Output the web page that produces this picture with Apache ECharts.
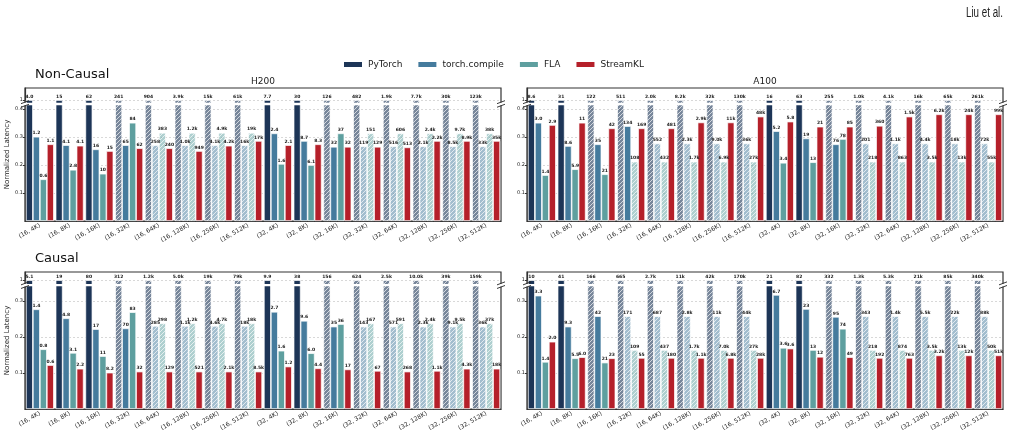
<!DOCTYPE html>
<html>
<head>
<meta charset="utf-8">
<script src="https://cdn.jsdelivr.net/npm/echarts@6/dist/echarts.min.js"></script>
<style>
  html, body { margin: 0; padding: 0; background: #fff; }
  #chart { width: 1017px; height: 438px; }
</style>
</head>
<body>
<div id="chart"></div>
<script>
// categories: (batch, sequence length)
const categories = ['(16, 4K)', '(16, 8K)', '(16, 16K)', '(16, 32K)', '(16, 64K)', '(16, 128K)', '(16, 256K)', '(16, 512K)',
    '(32, 4K)', '(32, 8K)', '(32, 16K)', '(32, 32K)', '(32, 64K)', '(32, 128K)', '(32, 256K)', '(32, 512K)'];
const seriesNames = ['PyTorch', 'torch.compile', 'FLA', 'StreamKL'];
const seriesColors = ['#1d3557', '#457b9d', '#5e9f9f', '#b5202a'];

// latency normalized to PyTorch (PyTorch = 1)
const baseline = 1;

// ---- Non-Causal, H200 ----
const h200NcTc  = [0.301, 0.271, 0.256, 0.271, 0.271, 0.271, 0.271, 0.271, 0.313, 0.286, 0.265, 0.267, 0.267, 0.267, 0.267, 0.267];
const h200NcFla = [0.149, 0.183, 0.169, 0.351, 0.315, 0.315, 0.315, 0.315, 0.204, 0.200, 0.313, 0.313, 0.313, 0.313, 0.313, 0.313];
const h200NcSk  = [0.274, 0.269, 0.250, 0.260, 0.260, 0.250, 0.269, 0.286, 0.271, 0.274, 0.265, 0.265, 0.263, 0.286, 0.286, 0.286];
const h200NcPtLbl  = ['4.0', '15', '62', '241', '904', '3.9k', '15k', '61k', '7.7', '30', '126', '482', '1.9k', '7.7k', '30k', '123k'];
const h200NcTcLbl  = ['1.2', '4.1', '16', '65', '258', '1.0k', '4.1k', '16k', '2.4', '8.7', '32', '119', '516', '2.1k', '8.5k', '33k'];
const h200NcFlaLbl = ['0.6', '2.8', '10', '84', '383', '1.2k', '4.9k', '19k', '1.6', '6.1', '37', '151', '606', '2.4k', '9.7k', '38k'];
const h200NcSkLbl  = ['1.1', '4.1', '15', '62', '240', '949', '4.2k', '17k', '2.1', '8.3', '32', '129', '513', '2.2k', '8.9k', '35k'];
// estimated entries (P = PyTorch, T = torch.compile, F = FLA)
const h200NcEst = ['', '', '', 'P', 'PTF', 'PTF', 'PTF', 'PTF', '', '', 'P', 'PTF', 'PTF', 'PTF', 'PTF', 'PTF'];

// ---- Non-Causal, A100 ----
const a100NcTc  = [0.351, 0.268, 0.274, 0.339, 0.277, 0.277, 0.277, 0.277, 0.321, 0.295, 0.274, 0.277, 0.277, 0.277, 0.277, 0.277];
const a100NcFla = [0.164, 0.185, 0.167, 0.212, 0.212, 0.212, 0.212, 0.212, 0.208, 0.210, 0.293, 0.212, 0.212, 0.212, 0.212, 0.212];
const a100NcSk  = [0.343, 0.351, 0.331, 0.331, 0.331, 0.352, 0.352, 0.373, 0.355, 0.337, 0.337, 0.340, 0.373, 0.381, 0.381, 0.381];
const a100NcPtLbl  = ['8.6', '31', '122', '511', '2.0k', '8.2k', '32k', '130k', '16', '63', '255', '1.0k', '4.1k', '16k', '65k', '261k'];
const a100NcTcLbl  = ['3.0', '8.6', '35', '134', '552', '2.3k', '9.0k', '36k', '5.2', '19', '76', '201', '1.1k', '4.4k', '18k', '72k'];
const a100NcFlaLbl = ['1.4', '5.9', '21', '108', '432', '1.7k', '6.9k', '27k', '3.4', '13', '78', '218', '863', '3.5k', '13k', '55k'];
const a100NcSkLbl  = ['2.9', '11', '42', '169', '481', '2.9k', '11k', '48k', '5.8', '21', '85', '360', '1.5k', '6.2k', '24k', '99k'];
const a100NcEst = ['', '', 'P', 'PF', 'PTF', 'PTF', 'PTF', 'PTF', '', '', 'P', 'PTF', 'PTF', 'PTF', 'PTF', 'PTF'];

// ---- Causal, H200 ----
const h200CTc  = [0.277, 0.252, 0.222, 0.224, 0.231, 0.231, 0.231, 0.231, 0.270, 0.245, 0.229, 0.229, 0.229, 0.229, 0.229, 0.229];
const h200CFla = [0.166, 0.156, 0.147, 0.269, 0.238, 0.238, 0.238, 0.238, 0.162, 0.155, 0.236, 0.238, 0.238, 0.238, 0.238, 0.238];
const h200CSk  = [0.122, 0.112, 0.101, 0.104, 0.104, 0.104, 0.104, 0.104, 0.118, 0.113, 0.110, 0.106, 0.104, 0.106, 0.112, 0.112];
const h200CPtLbl  = ['5.1', '19', '80', '312', '1.2k', '5.0k', '19k', '79k', '9.9', '38', '156', '624', '2.5k', '10.0k', '39k', '159k'];
const h200CTcLbl  = ['1.4', '4.8', '17', '70', '285', '1.1k', '4.6k', '18k', '2.7', '9.6', '35', '143', '571', '2.3k', '9.1k', '36k'];
const h200CFlaLbl = ['0.8', '3.1', '11', '83', '298', '1.2k', '4.7k', '18k', '1.6', '6.0', '36', '167', '591', '2.4k', '9.5k', '37k'];
const h200CSkLbl  = ['0.6', '2.2', '8.2', '32', '129', '521', '2.1k', '8.5k', '1.2', '4.4', '17', '67', '268', '1.1k', '4.3k', '18k'];
const h200CEst = ['', '', '', 'P', 'PTF', 'PTF', 'PTF', 'PTF', '', '', 'P', 'PTF', 'PTF', 'PTF', 'PTF', 'PTF'];

// ---- Causal, A100 ----
const a100CTc  = [0.315, 0.229, 0.258, 0.258, 0.258, 0.258, 0.258, 0.258, 0.317, 0.278, 0.256, 0.258, 0.258, 0.258, 0.258, 0.258];
const a100CFla = [0.131, 0.141, 0.129, 0.164, 0.164, 0.164, 0.164, 0.164, 0.170, 0.164, 0.223, 0.164, 0.164, 0.164, 0.164, 0.164];
const a100CSk  = [0.187, 0.144, 0.141, 0.142, 0.142, 0.142, 0.142, 0.142, 0.168, 0.145, 0.144, 0.142, 0.142, 0.149, 0.149, 0.149];
const a100CPtLbl  = ['10', '41', '166', '665', '2.7k', '11k', '42k', '170k', '21', '82', '332', '1.3k', '5.3k', '21k', '85k', '340k'];
const a100CTcLbl  = ['3.3', '9.3', '42', '171', '687', '2.8k', '11k', '44k', '6.7', '23', '95', '343', '1.4k', '5.5k', '22k', '88k'];
const a100CFlaLbl = ['1.4', '5.5', '21', '109', '437', '1.7k', '7.0k', '27k', '3.6', '13', '74', '218', '874', '3.5k', '13k', '50k'];
const a100CSkLbl  = ['2.0', '6.0', '23', '55', '180', '1.1k', '6.8k', '28k', '3.6', '12', '49', '192', '763', '3.2k', '12k', '51k'];
const a100CEst = ['', '', 'P', 'PTF', 'PTF', 'PTF', 'PTF', 'PTF', '', '', 'P', 'PTF', 'PTF', 'PTF', 'PTF', 'PTF'];

// panel layout (broken y axis: values above the break are drawn at "1")
const panels = [
    { title: 'H200', left: 25, top: 88, height: 133, yMax: 0.475, brk: 0.418, one: 0.432, ticks: [0.1, 0.2, 0.3, 0.4],
      vals: [null, h200NcTc, h200NcFla, h200NcSk], lbls: [h200NcPtLbl, h200NcTcLbl, h200NcFlaLbl, h200NcSkLbl], est: h200NcEst, yName: true },
    { title: 'A100', left: 527, top: 88, height: 133, yMax: 0.475, brk: 0.418, one: 0.432, ticks: [0.1, 0.2, 0.3, 0.4],
      vals: [null, a100NcTc, a100NcFla, a100NcSk], lbls: [a100NcPtLbl, a100NcTcLbl, a100NcFlaLbl, a100NcSkLbl], est: a100NcEst },
    { title: '', left: 25, top: 272, height: 137, yMax: 0.3806, brk: 0.344, one: 0.358, ticks: [0.1, 0.2, 0.3],
      vals: [null, h200CTc, h200CFla, h200CSk], lbls: [h200CPtLbl, h200CTcLbl, h200CFlaLbl, h200CSkLbl], est: h200CEst, yName: true },
    { title: '', left: 527, top: 272, height: 137, yMax: 0.3806, brk: 0.344, one: 0.358, ticks: [0.1, 0.2, 0.3],
      vals: [null, a100CTc, a100CFla, a100CSk], lbls: [a100CPtLbl, a100CTcLbl, a100CFlaLbl, a100CSkLbl], est: a100CEst }
];
const panelWidth = 476;
const estKeys = ['P', 'T', 'F', 'S'];

function rgba(hex, a) {
    const n = parseInt(hex.slice(1), 16);
    return 'rgba(' + (n >> 16) + ',' + ((n >> 8) & 255) + ',' + (n & 255) + ',' + a + ')';
}

// hatched fill for estimated bars: translucent series colour with white "///" stripes
function hatch(hex, a) {
    const s = 4;
    const c = document.createElement('canvas');
    c.width = s; c.height = s;
    const g = c.getContext('2d');
    g.fillStyle = rgba(hex, a);
    g.fillRect(0, 0, s, s);
    g.strokeStyle = 'rgba(255,255,255,0.75)';
    g.lineWidth = 0.9;
    g.beginPath();
    g.moveTo(-1, s + 1); g.lineTo(s + 1, -1);
    g.moveTo(-1, 1); g.lineTo(1, -1);
    g.moveTo(s - 1, s + 1); g.lineTo(s + 1, s - 1);
    g.stroke();
    return { image: c, repeat: 'repeat' };
}

const chart = echarts.init(document.getElementById('chart'));

const grids = [], xAxes = [], yAxes = [], series = [], graphics = [];

panels.forEach((p, pi) => {
    grids.push({ left: p.left, top: p.top, width: panelWidth, height: p.height, show: true,
        borderColor: '#333', borderWidth: 1.2, backgroundColor: 'transparent' });
    xAxes.push({
        type: 'category', gridIndex: pi, data: categories,
        axisLine: { lineStyle: { color: '#333', width: 1.2 } },
        axisTick: { alignWithLabel: true, length: 3, lineStyle: { color: '#333' } },
        axisLabel: { rotate: 30, fontSize: 6, color: '#222', fontFamily: 'DejaVu Sans', margin: 4, interval: 0 }
    });
    const tickVals = p.ticks.concat([p.one]);
    yAxes.push({
        type: 'value', gridIndex: pi, min: 0, max: p.yMax, interval: 0.1,
        name: p.yName ? 'Normalized Latency' : '', nameLocation: 'middle', nameGap: 12,
        nameTextStyle: { fontSize: 7, color: '#222', fontFamily: 'DejaVu Sans' },
        axisLine: { show: true, lineStyle: { color: '#333', width: 1.2 } },
        axisTick: { show: true, length: 2, customValues: tickVals, lineStyle: { color: '#333' } },
        axisLabel: { fontSize: 5, color: '#222', margin: 2, fontFamily: 'DejaVu Sans',
            customValues: tickVals,
            formatter: v => (v > p.brk ? '1' : v.toFixed(1)) },
        splitLine: { show: true, lineStyle: { color: '#cfcfcf', type: [2, 2], width: 0.8 } }
    });

    seriesNames.forEach((name, si) => {
        const color = seriesColors[si];
        const hatchFill = hatch(color, si === 0 ? 0.6 : 0.5);
        const data = categories.map((c, i) => {
            const raw = si === 0 ? baseline : p.vals[si][i];
            const v = raw > p.brk ? p.one : raw;
            const isEst = p.est[i].indexOf(estKeys[si]) >= 0;
            const item = { value: v };
            if (isEst) {
                item.itemStyle = { color: hatchFill };
            }
            return item;
        });
        series.push({
            name: name, type: 'bar', xAxisIndex: pi, yAxisIndex: pi,
            data: data, barGap: '0%', barCategoryGap: '6%',
            itemStyle: { color: color, borderColor: '#fff', borderWidth: 0.7 },
            label: { show: true, position: 'top', distance: 1, fontSize: 4.5, fontWeight: 'bold',
                color: '#222', fontFamily: 'DejaVu Sans',
                formatter: q => p.lbls[si][q.dataIndex] },
            emphasis: { disabled: true },
            animation: false
        });
    });

    // axis break: white gap through the tall bars and "//" marks on both spines
    const by = p.top + (p.yMax - p.brk) / p.yMax * p.height;
    graphics.push({ type: 'rect', z: 100, shape: { x: p.left + 1, y: by - 1.2, width: panelWidth - 2, height: 2.4 },
        style: { fill: '#fff' } });
    [p.left, p.left + panelWidth].forEach(x => {
        graphics.push({ type: 'rect', z: 100, shape: { x: x - 2, y: by - 1.5, width: 4, height: 3 }, style: { fill: '#fff' } });
        [-1.8, 1.8].forEach(d => {
            graphics.push({ type: 'line', z: 101,
                shape: { x1: x - 4, y1: by + d + 1.5, x2: x + 4, y2: by + d - 1.5 },
                style: { stroke: '#222', lineWidth: 0.9 } });
        });
    });
    if (p.title) {
        graphics.push({ type: 'text', z: 100, x: p.left + panelWidth / 2, y: p.top - 11,
            style: { text: p.title, fontSize: 9, fill: '#222', fontFamily: 'DejaVu Sans', textAlign: 'center' } });
    }
});

graphics.push(
    { type: 'text', x: 1003, y: 6, scaleX: 0.7, style: { text: 'Liu et al.', fontSize: 14, fill: '#222',
        fontFamily: 'Liberation Sans', textAlign: 'right' } },
    { type: 'text', x: 35, y: 68, style: { text: 'Non-Causal', fontSize: 13, fill: '#111', fontFamily: 'DejaVu Sans' } },
    { type: 'text', x: 35, y: 252, style: { text: 'Causal', fontSize: 13, fill: '#111', fontFamily: 'DejaVu Sans' } }
);

chart.setOption({
    animation: false,
    backgroundColor: '#fff',
    legend: {
        top: 55, left: 337, icon: 'rect', itemWidth: 20, itemHeight: 7, itemGap: 14,
        data: seriesNames,
        textStyle: { fontSize: 9, color: '#222', fontFamily: 'DejaVu Sans' }
    },
    grid: grids,
    xAxis: xAxes,
    yAxis: yAxes,
    series: series,
    graphic: graphics
});

window.addEventListener('resize', function () {
    chart.resize();
});
</script>
</body>
</html>
